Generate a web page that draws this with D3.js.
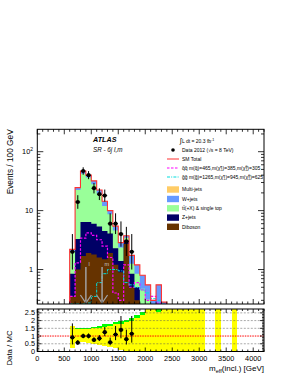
<!DOCTYPE html>
<html>
<head>
<meta charset="utf-8">
<script src="https://cdn.jsdelivr.net/npm/d3@7"></script>
<style>
  body { margin: 0; background: #fff; }
  svg { display: block; }
  text { font-family: "Liberation Sans", Arial, sans-serif; }
</style>
</head>
<body>
<div id="chart"></div>
<script>
// ---- data (100 GeV bins, low edges) ----
const binLow    = [600, 700, 800, 900, 1000, 1100, 1200, 1300, 1400, 1500, 1600, 1700, 1800, 1900, 2000, 2100, 2200, 2300];
const diboson   = [0.35, 1.0, 1.7, 1.9, 1.8, 1.6, 1.5, 1.9, 1.2, 0.9, 2.7, 0.5, 0.3, 0.12, 0.08, 0.03, 0, 0];
const zjets     = [0.5, 2.3, 4.7, 4.5, 4.2, 3.8, 3.0, 2.2, 1.1, 0.5, 0.45, 0.35, 0.2, 0.1, 0.08, 0.05, 0.02, 0];
const ttbar     = [1.2, 19, 36, 30, 22, 14, 7.5, 4.6, 2.3, 0.96, 0.3, 0.4, 0.35, 0.25, 0.15, 0.1, 0.05, 0.03];
const wjets     = [0.15, 2.3, 4.3, 3.5, 4.0, 3.0, 2.4, 1.3, 0.85, 0.5, 0.3, 0.49, 0.35, 0.33, 0.24, 0.12, 0.48, 0.25];
const multijets = [0, 0, 0.3, 0.1, 0, 0, 0, 0, 0, 0, 0, 0, 0, 0, 0, 0, 0, 0];
const sigQQ     = [0.35, 1.3, 3.4, 4.2, 3.8, 3.2, 2.5, 1.6, 0.4, 0.3, 1.2, 0.5, 0.6, 0.45, 0.3, 0.35, 0.27, 0.2];
const sigGG     = [0, 0, 0, 0.27, 0.35, 0.6, 0.85, 1.0, 1.0, 0.95, 0.6, 0.55, 0.5, 0.45, 0.4, 0.32, 0.3, 0.27];

const dataLow   = [600, 700, 800, 900, 1000, 1100, 1200, 1300, 1400, 1500, 1600, 1700];
const dataCount = [2, 14, 47, 40, 24, 19, 18, 6, 6, 4, 3, 2];

// ratio-panel uncertainty bands (yellow lo/hi, green hi)
const bandLow   = [600, 700, 800, 900, 1000, 1100, 1200, 1300, 1400, 1500, 1600, 1700, 1800, 1900, 2000, 2100, 2200, 2300, 2400, 2500, 2600, 2700, 2800, 2900, 3000, 3300, 3600];
const bandLo    = [0.25, 0.62, 0.6, 0.55, 0.5, 0.45, 0.35, 0.3, 0.2, 0.1, 0.05, 0, 0, 0, 0, 0, 0, 0, 0, 0, 0, 0, 0, 0, 0, 0, 0];
const bandHi    = [1.65, 1.45, 1.45, 1.48, 1.5, 1.55, 1.6, 1.65, 1.75, 1.8, 1.9, 2.0, 2.15, 2.35, 3, 3, 2.55, 3, 3, 3, 3, 3, 3, 3, 3, 3, 3];
const greenHi   = [1.65, 1.5, 1.5, 1.55, 1.6, 1.65, 1.75, 1.8, 1.9, 2.0, 2.05, 2.15, 2.35, 2.55, 3, 3, 3, 3, 3, 3, 3, 3, 3, 3, 3, 3, 3];

const cutArrows = [{ x: 900, label: "l" }, { x: 1200, label: "m" }];

const xTicks = [0, 500, 1000, 1500, 2000, 2500, 3000, 3500, 4000];
const ratioTicks = [0, 0.5, 1, 1.5, 2, 2.5];

const binW = 100;
const colors = { diboson: "#663300", zjets: "#000066", ttbar: "#99ff99", wjets: "#6699ff", multijets: "#ffcc66" };

// ---- layout ----
const W = 289, H = 374;
const L = 37.3, R = 264;
const mainTop = 129.3, mainBot = 304;
const ratTop = 309, ratBot = 351.5;

const svg = d3.select("#chart").append("svg").attr("width", W).attr("height", H);
svg.append("rect").attr("width", W).attr("height", H).attr("fill", "#fff");

const x = d3.scaleLinear().domain([0, 4200]).range([L, R]);
const y = d3.scaleLog().domain([0.26, 240]).range([mainBot, mainTop]).clamp(true);
const yr = d3.scaleLinear().domain([0, 2.75]).range([ratBot, ratTop]).clamp(true);

svg.append("clipPath").attr("id", "clipMain")
  .append("rect").attr("x", L).attr("y", mainTop).attr("width", R - L).attr("height", mainBot - mainTop);
svg.append("clipPath").attr("id", "clipRat")
  .append("rect").attr("x", L).attr("y", ratTop).attr("width", R - L).attr("height", ratBot - ratTop);

const gMain = svg.append("g").attr("clip-path", "url(#clipMain)");

// step outline from values (closed at bottom)
function stepPoints(vals, ys) {
  const pts = [[x(binLow[0]), ys(0)]];
  vals.forEach((v, i) => {
    pts.push([x(binLow[i]), ys(v)]);
    pts.push([x(binLow[i] + binW), ys(v)]);
  });
  pts.push([x(binLow[vals.length - 1] + binW), ys(0)]);
  return pts;
}
const line = d3.line();

// cumulative stack
const layers = [
  ["diboson", diboson], ["zjets", zjets], ["ttbar", ttbar], ["wjets", wjets], ["multijets", multijets]
];
const cumul = [];
let run = binLow.map(() => 0);
layers.forEach(([name, vals]) => {
  run = run.map((r, i) => r + vals[i]);
  cumul.push([name, run.slice()]);
});
// paint from top of stack down
cumul.slice().reverse().forEach(([name, vals]) => {
  gMain.append("path")
    .attr("d", line(stepPoints(vals, y)) + "Z")
    .attr("fill", colors[name]);
});
const total = cumul[cumul.length - 1][1];

// signal lines
gMain.append("path").attr("d", line(stepPoints(sigQQ, y)))
  .attr("fill", "none").attr("stroke", "#ff00ff").attr("stroke-width", 1.2)
  .attr("stroke-dasharray", "2.5,1.5");
gMain.append("path").attr("d", line(stepPoints(sigGG, y)))
  .attr("fill", "none").attr("stroke", "#00dddd").attr("stroke-width", 1)
  .attr("stroke-dasharray", "3,1.2,1,1.2");

// SM total
gMain.append("path").attr("d", line(stepPoints(total, y)))
  .attr("fill", "none").attr("stroke", "#ff3333").attr("stroke-width", 1.1);

// cut arrows
cutArrows.forEach(a => {
  const ax = x(a.x);
  gMain.append("line").attr("x1", ax).attr("x2", ax).attr("y1", 267).attr("y2", 303)
    .attr("stroke", "#a0a0a0").attr("stroke-width", 1.5);
  gMain.append("path").attr("d", `M${ax - 5.5},295L${ax},303L${ax + 5.5},295`)
    .attr("fill", "none").attr("stroke", "#a0a0a0").attr("stroke-width", 1.3);
  gMain.append("text").attr("x", ax + 2.5).attr("y", 266).attr("font-size", 5.5)
    .attr("fill", "#c8c8c8").text(a.label);
});

// data points (main)
function poisUp(n) { return n + Math.sqrt(n + 0.25) + 0.5; }
function poisDn(n) { return n - Math.sqrt(n + 0.25) + 0.5; }
const gData = svg.append("g").attr("clip-path", "url(#clipMain)");
dataLow.forEach((lo, i) => {
  const n = dataCount[i], cx = x(lo + binW / 2);
  gData.append("line").attr("x1", cx).attr("x2", cx).attr("y1", y(poisDn(n))).attr("y2", y(poisUp(n)))
    .attr("stroke", "#000").attr("stroke-width", 1);
  gData.append("line").attr("x1", x(lo) + 0.3).attr("x2", x(lo + binW) - 0.3).attr("y1", y(n)).attr("y2", y(n))
    .attr("stroke", "#000").attr("stroke-width", 1);
  gData.append("circle").attr("cx", cx).attr("cy", y(n)).attr("r", 2.1).attr("fill", "#000");
});

// ---- ratio panel ----
const gRat = svg.append("g").attr("clip-path", "url(#clipRat)");
bandLow.forEach((lo, i) => {
  gRat.append("rect").attr("x", x(lo)).attr("width", x(lo + binW) - x(lo))
    .attr("y", yr(greenHi[i])).attr("height", yr(bandLo[i]) - yr(greenHi[i]))
    .attr("fill", "#00ff00").attr("shape-rendering", "crispEdges");
});
bandLow.forEach((lo, i) => {
  gRat.append("rect").attr("x", x(lo)).attr("width", x(lo + binW) - x(lo))
    .attr("y", yr(bandHi[i])).attr("height", yr(bandLo[i]) - yr(bandHi[i]))
    .attr("fill", "#ffff00").attr("shape-rendering", "crispEdges");
});
[0.5, 1.5, 2, 2.5].forEach(v => {
  gRat.append("line").attr("x1", L).attr("x2", R).attr("y1", yr(v)).attr("y2", yr(v))
    .attr("stroke", "#555").attr("stroke-width", 0.5).attr("stroke-dasharray", "2,1.5");
});
gRat.append("line").attr("x1", L).attr("x2", R).attr("y1", yr(1)).attr("y2", yr(1))
  .attr("stroke", "#ff0000").attr("stroke-width", 1).attr("stroke-dasharray", "1.5,1");

dataLow.forEach((lo, i) => {
  const mc = total[binLow.indexOf(lo)];
  const n = dataCount[i], cx = x(lo + binW / 2);
  gRat.append("line").attr("x1", cx).attr("x2", cx)
    .attr("y1", yr(poisDn(n) / mc)).attr("y2", yr(poisUp(n) / mc))
    .attr("stroke", "#000").attr("stroke-width", 1);
  gRat.append("line").attr("x1", x(lo) + 0.3).attr("x2", x(lo + binW) - 0.3)
    .attr("y1", yr(n / mc)).attr("y2", yr(n / mc)).attr("stroke", "#000").attr("stroke-width", 1);
  gRat.append("circle").attr("cx", cx).attr("cy", yr(n / mc)).attr("r", 2.1).attr("fill", "#000");
});

// ---- frames and ticks ----
function frame(top, bot) {
  svg.append("rect").attr("x", L).attr("y", top).attr("width", R - L).attr("height", bot - top)
    .attr("fill", "none").attr("stroke", "#000").attr("stroke-width", 1);
}
frame(mainTop, mainBot);
frame(ratTop, ratBot);

const gTicks = svg.append("g").attr("stroke", "#000").attr("stroke-width", 0.8);
function xTickMarks(top, bot, majLen, minLen) {
  for (let v = 0; v <= 4200; v += 100) {
    const len = v % 500 === 0 ? majLen : minLen;
    const px = x(v);
    gTicks.append("line").attr("x1", px).attr("x2", px).attr("y1", bot).attr("y2", bot - len);
    gTicks.append("line").attr("x1", px).attr("x2", px).attr("y1", top).attr("y2", top + len);
  }
}
xTickMarks(mainTop, mainBot, 5, 2.5);
xTickMarks(ratTop, ratBot, 4, 2);

// log y ticks
[0.3, 0.4, 0.5, 0.6, 0.7, 0.8, 0.9, 1, 2, 3, 4, 5, 6, 7, 8, 9, 10, 20, 30, 40, 50, 60, 70, 80, 90, 100, 200].forEach(v => {
  const major = [1, 10, 100].includes(v);
  const len = major ? 6 : 3;
  const py = y(v);
  gTicks.append("line").attr("x1", L).attr("x2", L + len).attr("y1", py).attr("y2", py);
  gTicks.append("line").attr("x1", R).attr("x2", R - len).attr("y1", py).attr("y2", py);
});
// ratio y ticks
for (let k = 0; k <= 27; k++) {
  const v = k / 10;
  const len = k % 5 === 0 ? 4 : 2;
  gTicks.append("line").attr("x1", L).attr("x2", L + len).attr("y1", yr(v)).attr("y2", yr(v));
  gTicks.append("line").attr("x1", R).attr("x2", R - len).attr("y1", yr(v)).attr("y2", yr(v));
}

// tick labels
const fsTick = 7.3;
xTicks.forEach(v => {
  svg.append("text").attr("x", x(v)).attr("y", 360.5).attr("text-anchor", "middle")
    .attr("font-size", fsTick).text(v);
});
ratioTicks.forEach(v => {
  svg.append("text").attr("x", 35).attr("y", yr(v) + 2.6).attr("text-anchor", "end")
    .attr("font-size", fsTick).text(v);
});
const t100 = svg.append("text").attr("x", 33).attr("y", y(100) + 2.6).attr("text-anchor", "end").attr("font-size", fsTick);
t100.append("tspan").text("10");
t100.append("tspan").attr("dy", -3).attr("font-size", 5).text("2");
svg.append("text").attr("x", 33).attr("y", y(10) + 2.6).attr("text-anchor", "end").attr("font-size", fsTick).text("10");
svg.append("text").attr("x", 33).attr("y", y(1) + 2.6).attr("text-anchor", "end").attr("font-size", fsTick).text("1");

// axis titles
svg.append("text").attr("transform", `translate(13,${mainTop}) rotate(-90)`).attr("text-anchor", "end")
  .attr("font-size", 8.3).text("Events / 100 GeV");
svg.append("text").attr("transform", `translate(12,348) rotate(-90)`).attr("text-anchor", "middle")
  .attr("font-size", 7.8).text("Data / MC");
const xt = svg.append("text").attr("x", R).attr("y", 371).attr("text-anchor", "end").attr("font-size", 8);
xt.append("tspan").text("m");
xt.append("tspan").attr("dy", 1.8).attr("font-size", 5.5).text("eff");
xt.append("tspan").attr("dy", -1.8).text("(incl.) [GeV]");

// ATLAS label
svg.append("text").attr("x", 93).attr("y", 142).attr("font-size", 7.2).attr("font-weight", "bold")
  .attr("font-style", "italic").text("ATLAS");
svg.append("text").attr("x", 93).attr("y", 152).attr("font-size", 6.3).attr("font-style", "italic")
  .text("SR - 6j l,m");

// ---- legend ----
const gLeg = svg.append("g").attr("clip-path", "url(#clipMain)");
const fsLeg = 5;
const symX0 = 167, symX1 = 179, txtX = 182;

const lumi = gLeg.append("text").attr("x", txtX - 2).attr("y", 142.5).attr("font-size", fsLeg);
lumi.append("tspan").attr("font-size", 7).attr("dy", 0.8).text("∫");
lumi.append("tspan").attr("dy", -0.8).text("L dt = 20.3 fb");
lumi.append("tspan").attr("dy", -2).attr("font-size", 3.6).text("-1");

gLeg.append("circle").attr("cx", 173).attr("cy", 150).attr("r", 1.8).attr("fill", "#000");
gLeg.append("text").attr("x", txtX).attr("y", 151.7).attr("font-size", fsLeg).text("Data 2012 (√s = 8 TeV)");

gLeg.append("line").attr("x1", symX0).attr("x2", symX1).attr("y1", 159).attr("y2", 159)
  .attr("stroke", "#ff3333").attr("stroke-width", 1.1);
gLeg.append("text").attr("x", txtX).attr("y", 160.7).attr("font-size", fsLeg).text("SM Total");

gLeg.append("line").attr("x1", symX0).attr("x2", symX1).attr("y1", 168).attr("y2", 168)
  .attr("stroke", "#ff00ff").attr("stroke-width", 1.2).attr("stroke-dasharray", "2.5,1.5");
const tq = gLeg.append("text").attr("x", txtX).attr("y", 169.7).attr("font-size", fsLeg);
tq.append("tspan").text("q̃q̃ m(q̃)=465,m(χ̃");
tq.append("tspan").attr("font-size", 3.4).attr("dy", -1.8).text("±");
tq.append("tspan").attr("font-size", 3.4).attr("dy", 3).attr("dx", -1.5).text("1");
tq.append("tspan").attr("dy", -1.2).text(")=385,m(χ̃");
tq.append("tspan").attr("font-size", 3.4).attr("dy", -1.8).text("0");
tq.append("tspan").attr("font-size", 3.4).attr("dy", 3).attr("dx", -1.8).text("1");
tq.append("tspan").attr("dy", -1.2).text(")=305");

gLeg.append("line").attr("x1", symX0).attr("x2", symX1).attr("y1", 177).attr("y2", 177)
  .attr("stroke", "#00dddd").attr("stroke-width", 1).attr("stroke-dasharray", "3,1.2,1,1.2");
const tg = gLeg.append("text").attr("x", txtX).attr("y", 178.7).attr("font-size", fsLeg);
tg.append("tspan").text("g̃g̃ m(g̃)=1265,m(χ̃");
tg.append("tspan").attr("font-size", 3.4).attr("dy", -1.8).text("±");
tg.append("tspan").attr("font-size", 3.4).attr("dy", 3).attr("dx", -1.5).text("1");
tg.append("tspan").attr("dy", -1.2).text(")=945,m(χ̃");
tg.append("tspan").attr("font-size", 3.4).attr("dy", -1.8).text("0");
tg.append("tspan").attr("font-size", 3.4).attr("dy", 3).attr("dx", -1.8).text("1");
tg.append("tspan").attr("dy", -1.2).text(")=625");

const boxEntries = [
  ["multijets", "Multi-jets", 189.5],
  ["wjets", "W+jets", 199],
  ["ttbar", "tt̄(+X) & single top", 208.3],
  ["zjets", "Z+jets", 217.6],
  ["diboson", "Diboson", 226.8]
];
boxEntries.forEach(([key, label, cy]) => {
  gLeg.append("rect").attr("x", symX0).attr("y", cy - 3.2).attr("width", symX1 - symX0).attr("height", 6.4)
    .attr("fill", colors[key]);
  gLeg.append("text").attr("x", txtX).attr("y", cy + 1.7).attr("font-size", fsLeg).text(label);
});
</script>
</body>
</html>
